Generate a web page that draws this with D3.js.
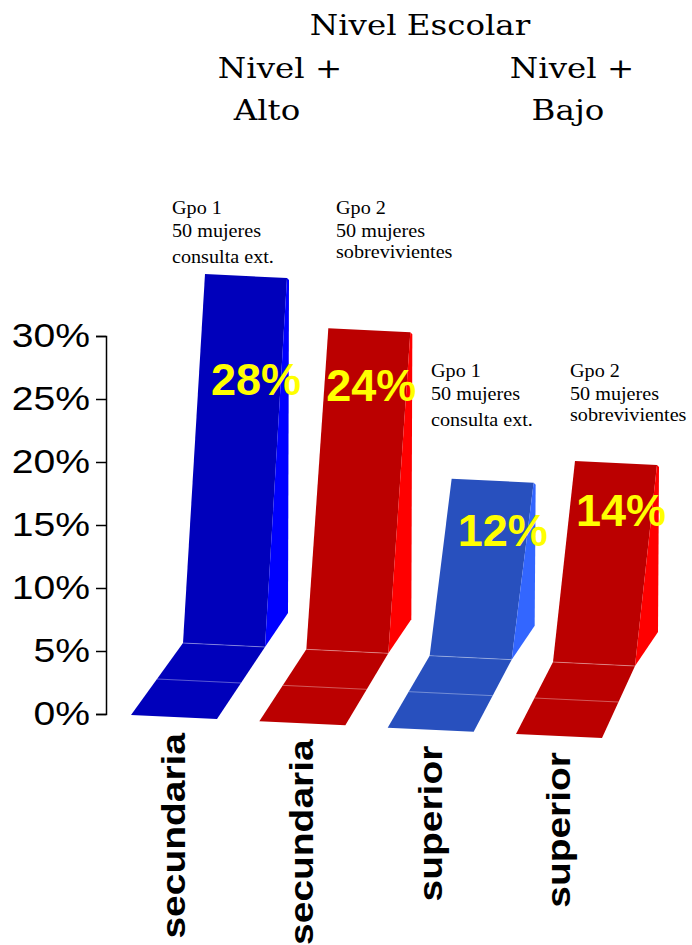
<!DOCTYPE html>
<html>
<head>
<meta charset="utf-8">
<script src="https://cdn.jsdelivr.net/npm/d3@7"></script>
<style>
  body { margin: 0; background: #fff; }
  svg { display: block; }
</style>
</head>
<body>
<script>
// chart data
var categories = ["secundaria", "secundaria", "superior", "superior"];
var values = [28, 24, 12, 14];
var valueLabels = ["28%", "24%", "12%", "14%"];
var groupNotes = [
  ["Gpo 1", "50 mujeres", "consulta ext."],
  ["Gpo 2", "50 mujeres", "sobrevivientes"],
  ["Gpo 1", "50 mujeres", "consulta ext."],
  ["Gpo 2", "50 mujeres", "sobrevivientes"]
];
var yTicks = [0, 5, 10, 15, 20, 25, 30];
var tickLabels = ["0%", "5%", "10%", "15%", "20%", "25%", "30%"];

// styles
var frontColors = ["#0000bb", "#bb0000", "#2850be", "#bb0000"];
var sideColors = ["#0000ff", "#ff0000", "#3366ff", "#ff0000"];

var w = 692, h = 945;

var svg = d3.select("body")
  .append("svg")
  .attr("width", w)
  .attr("height", h);

// axis scale
var y = d3.scaleLinear()
  .domain([0, 30])
  .range([714, 336]);

// perspective scales for the bars
var idx = d3.range(values.length);
var baseX = d3.scaleLinear().domain([0, 3]).range([131, 516]);
var baseY = d3.scaleLinear().domain([0, 3]).range([715, 734]);
var depthX = d3.scaleLinear().domain([0, 3]).range([52, 37]);
var wallH = d3.scaleLinear().domain([0, 30]).range([33, 393]);

function geom(i) {
  var fl = [baseX(i), baseY(i)];
  var fr = [fl[0] + 86, fl[1] + 4];
  var bl = [fl[0] + depthX(i), fl[1] - 72];
  var br = [bl[0] + 82, bl[1] + 4];
  var hh = wallH(values[i]);
  var tl = [bl[0] + 22, bl[1] - hh];
  var tr = [br[0] + 22, br[1] - hh];
  return {fl: fl, fr: fr, bl: bl, br: br, tl: tl, tr: tr};
}

var line = d3.line();

var bars = svg.selectAll(".bar")
  .data(idx)
  .enter()
  .append("g")
  .attr("class", "bar");

// floor
bars.append("path")
  .attr("d", function(i){
    var g = geom(i);
    return line([g.fl, g.fr, g.br, g.bl]) + "Z";
  })
  .style("fill", function(i){ return frontColors[i]; });

// wall
bars.append("path")
  .attr("d", function(i){
    var g = geom(i);
    return line([g.bl, g.br, g.tr, g.tl]) + "Z";
  })
  .style("fill", function(i){ return frontColors[i]; });

// side face
bars.append("path")
  .attr("d", function(i){
    var g = geom(i);
    return line([g.tr, [g.tr[0] + 2, g.tr[1] + 2], [g.br[0] + 23, g.br[1] - 34], g.br]) + "Z";
  })
  .style("fill", function(i){ return sideColors[i]; });

// faint lines on floor
bars.append("path")
  .attr("d", function(i){
    var g = geom(i);
    var ml = [(g.fl[0] + g.bl[0]) / 2, (g.fl[1] + g.bl[1]) / 2];
    var mr = [(g.fr[0] + g.br[0]) / 2, (g.fr[1] + g.br[1]) / 2];
    return line([ml, mr]) + line([g.bl, g.br]);
  })
  .style("fill", "none")
  .style("stroke", "rgba(255,255,255,0.35)")
  .style("stroke-width", 1);

// value labels
var labelDx = [10, 2, 10, 5], labelDy = [121, 73, 67, 65];
bars.append("text")
  .attr("x", function(i){ var g = geom(i); return (g.tl[0] + g.tr[0]) / 2 + labelDx[i]; })
  .attr("y", function(i){ var g = geom(i); return g.tl[1] + labelDy[i]; })
  .attr("text-anchor", "middle")
  .style("font-family", "'Liberation Sans', Arial, sans-serif")
  .style("font-weight", "bold")
  .style("font-size", "45px")
  .style("fill", "#ffff00")
  .text(function(i){ return valueLabels[i]; });

// category labels (rotated)
bars.append("text")
  .attr("transform", function(i){
    var g = geom(i);
    return "translate(" + (g.fl[0] + 54) + "," + (g.fr[1] + 14) + ") rotate(-90) scale(1.18,1)";
  })
  .attr("text-anchor", "end")
  .style("font-family", "'Liberation Sans', Arial, sans-serif")
  .style("font-weight", "bold")
  .style("font-size", "33px")
  .style("fill", "#000")
  .text(function(i){ return categories[i]; });

// y axis
var yAxis = d3.axisLeft(y)
  .tickValues(yTicks)
  .tickSize(10)
  .tickPadding(4)
  .tickFormat(function(d, i){ return tickLabels[i]; });

var axis = svg.append("g")
  .attr("class", "axis")
  .attr("transform", "translate(106,0)")
  .call(yAxis);

axis.select(".domain").style("stroke", "#000").style("stroke-width", 1.5);
axis.selectAll(".tick line").style("stroke", "#000").style("stroke-width", 1.5);
axis.selectAll(".tick text")
  .style("font-family", "'Liberation Sans', Arial, sans-serif")
  .style("font-size", "34px")
  .style("fill", "#000")
  .attr("transform", "scale(1.15,1)");

// group notes
var notePos = [[172, 214], [336, 214], [431, 377], [570, 377]];
var noteGap = [[0, 23, 49], [0, 23, 44], [0, 23, 49], [0, 23, 44]];
idx.forEach(function(i){
  var t = svg.append("g")
    .attr("transform", "translate(" + notePos[i][0] + "," + notePos[i][1] + ") scale(1.12,1)");
  t.selectAll("text")
    .data(groupNotes[i])
    .enter()
    .append("text")
    .attr("x", 0)
    .attr("y", function(d, j){ return noteGap[i][j]; })
    .style("font-family", "'Liberation Serif', 'Times New Roman', serif")
    .style("font-size", "18px")
    .style("fill", "#000")
    .text(function(d){ return d; });
});

// titles
var titles = [
  {t: "Nivel Escolar", x: 420, y: 35},
  {t: "Nivel +", x: 280, y: 78},
  {t: "Alto", x: 267, y: 120},
  {t: "Nivel +", x: 572, y: 78},
  {t: "Bajo", x: 568, y: 120}
];
svg.selectAll(".title")
  .data(titles)
  .enter()
  .append("text")
  .attr("class", "title")
  .attr("transform", function(d){ return "translate(" + d.x + "," + d.y + ") scale(1.16,1)"; })
  .attr("text-anchor", "middle")
  .style("font-family", "'DejaVu Serif', serif")
  .style("font-size", "28px")
  .style("fill", "#000")
  .text(function(d){ return d.t; });
</script>
</body>
</html>
